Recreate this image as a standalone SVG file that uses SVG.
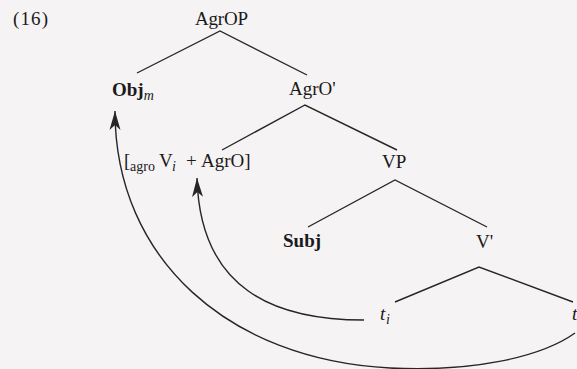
<svg xmlns="http://www.w3.org/2000/svg" width="577" height="369" viewBox="0 0 577 369">
<style>
text{font-family:"Liberation Serif","Times New Roman",serif;font-size:19px;fill:#1a1a1a}
.b{font-weight:bold}
.i{font-style:italic}
.sub{font-size:14px}
.edge{stroke:#262626;stroke-width:1.4;fill:none}
.mv{stroke:#262626;stroke-width:1.4;fill:none;marker-end:url(#ah)}
</style>
<defs>
<marker id="ah" viewBox="-19 -6 21 12" refX="0" refY="0" markerWidth="21" markerHeight="12" markerUnits="userSpaceOnUse" orient="auto">
<path d="M0,0 L-19,-5.5 L-14,0 L-19,5.5 Z" fill="#262626"/>
</marker>
</defs>
<rect width="577" height="369" fill="#f6f3f4"/>
<text id="label" x="13" y="25" textLength="35">(16)</text>
<g id="AgrOP"><text x="195" y="25" textLength="53">AgrOP</text></g>
<g id="Obj"><text x="112" y="96"><tspan class="b">Obj</tspan><tspan class="i sub" dy="4">m</tspan></text></g>
<g id="AgrOBar"><text x="289" y="95">AgrO'</text></g>
<g id="AgrOHead"><text y="167"><tspan x="124">[</tspan><tspan class="sub" x="130" dy="4">agro</tspan><tspan x="159" dy="-4">V</tspan><tspan class="i sub" x="172" dy="4">i</tspan><tspan x="186" dy="-4">+</tspan><tspan x="201">AgrO]</tspan></text></g>
<g id="VP"><text x="382" y="168">VP</text></g>
<g id="Subj"><text class="b" x="283" y="247">Subj</text></g>
<g id="VBar"><text x="476" y="248">V'</text></g>
<g id="ti"><text y="320"><tspan class="i" x="380">t</tspan><tspan class="i sub" x="386" dy="4">i</tspan></text></g>
<g id="t"><text class="i" x="572" y="320">t</text></g>
<g id="connectors">
<path class="edge" d="M137,73 L220,31 L307,75"/>
<path class="edge" d="M222,150 L305,105 L397,150"/>
<path class="edge" d="M308,227 L395,180 L487,227"/>
<path class="edge" d="M395,302 L479,267 L573,302"/>
<path class="mv" d="M364,320 C275,320 200,290 197,178"/>
<path class="mv" d="M575,333 C540,358 470,372 390,368 C230,360 115,260 115,111"/>
</g>
</svg>
